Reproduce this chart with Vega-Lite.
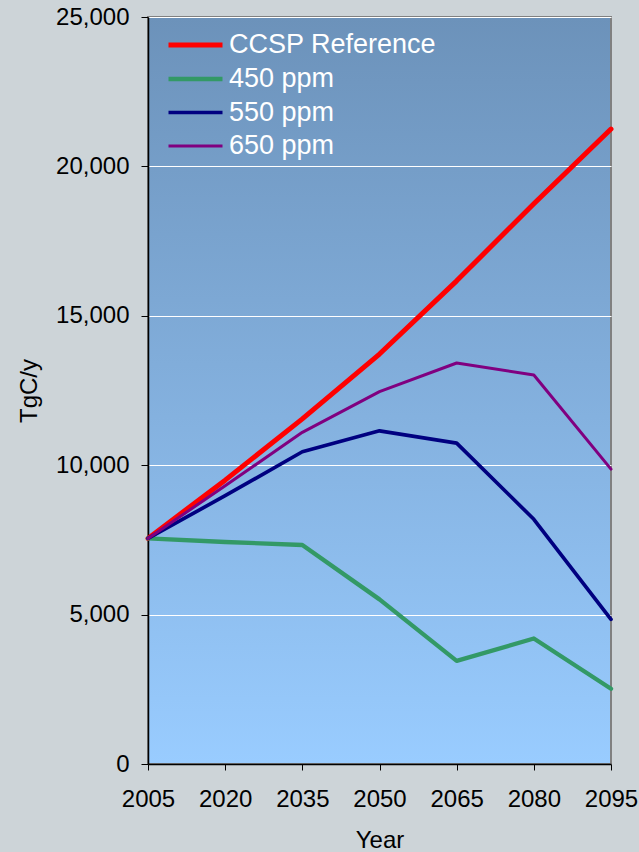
{
  "$schema": "https://vega.github.io/schema/vega-lite/v6.json",
  "width": 463,
  "height": 747,
  "autosize": {"type": "none"},
  "padding": {"left": 148, "top": 17, "right": 28, "bottom": 88},
  "background": "#cdd4d8",
  "config": {
    "font": "Liberation Sans",
    "view": {
      "fill": {"gradient": "linear", "x1": 0, "y1": 0, "x2": 0, "y2": 1,
        "stops": [{"offset": 0, "color": "#6c92ba"}, {"offset": 1, "color": "#99ccff"}]},
      "stroke": "#808080",
      "strokeWidth": 2
    },
    "axis": {
      "labelFont": "Liberation Sans",
      "labelFontSize": 24,
      "labelColor": "#000000",
      "titleFont": "Liberation Sans",
      "titleFontSize": 24,
      "titleFontWeight": "normal",
      "titleColor": "#000000",
      "domainColor": "#000000",
      "domainWidth": 1.5,
      "tickColor": "#000000",
      "tickWidth": 1
    }
  },
  "data": {
    "values": [
      {"series": "CCSP Reference", "year": 2005, "value": 7550},
      {"series": "CCSP Reference", "year": 2020, "value": 9500},
      {"series": "CCSP Reference", "year": 2035, "value": 11550},
      {"series": "CCSP Reference", "year": 2050, "value": 13720},
      {"series": "CCSP Reference", "year": 2065, "value": 16170},
      {"series": "CCSP Reference", "year": 2080, "value": 18750},
      {"series": "CCSP Reference", "year": 2095, "value": 21250},
      {"series": "450 ppm", "year": 2005, "value": 7550},
      {"series": "450 ppm", "year": 2020, "value": 7430},
      {"series": "450 ppm", "year": 2035, "value": 7330},
      {"series": "450 ppm", "year": 2050, "value": 5510},
      {"series": "450 ppm", "year": 2065, "value": 3450},
      {"series": "450 ppm", "year": 2080, "value": 4200},
      {"series": "450 ppm", "year": 2095, "value": 2520},
      {"series": "550 ppm", "year": 2005, "value": 7550},
      {"series": "550 ppm", "year": 2020, "value": 8980},
      {"series": "550 ppm", "year": 2035, "value": 10450},
      {"series": "550 ppm", "year": 2050, "value": 11150},
      {"series": "550 ppm", "year": 2065, "value": 10740},
      {"series": "550 ppm", "year": 2080, "value": 8190},
      {"series": "550 ppm", "year": 2095, "value": 4840},
      {"series": "650 ppm", "year": 2005, "value": 7550},
      {"series": "650 ppm", "year": 2020, "value": 9310},
      {"series": "650 ppm", "year": 2035, "value": 11100},
      {"series": "650 ppm", "year": 2050, "value": 12460},
      {"series": "650 ppm", "year": 2065, "value": 13420},
      {"series": "650 ppm", "year": 2080, "value": 13020},
      {"series": "650 ppm", "year": 2095, "value": 9870}
    ]
  },
  "mark": {"type": "line", "strokeJoin": "round", "strokeCap": "round"},
  "encoding": {
    "x": {
      "field": "year", "type": "quantitative",
      "scale": {"domain": [2005, 2095], "nice": false, "zero": false},
      "axis": {
        "values": [2005, 2020, 2035, 2050, 2065, 2080, 2095],
        "format": "d", "grid": false, "title": "Year",
        "tickSize": 6, "labelPadding": 17, "titlePadding": 17,
        "labelFlush": false, "labelOverlap": false
      }
    },
    "y": {
      "field": "value", "type": "quantitative",
      "scale": {"domain": [0, 25000], "nice": false},
      "axis": {
        "values": [0, 5000, 10000, 15000, 20000, 25000],
        "format": ",d", "title": "TgC/y",
        "grid": true, "gridColor": "#ffffff", "gridWidth": 1, "gridOpacity": 1,
        "tickSize": 7, "labelPadding": 12, "titlePadding": 14
      }
    },
    "color": {
      "field": "series", "type": "nominal",
      "scale": {
        "domain": ["CCSP Reference", "450 ppm", "550 ppm", "650 ppm"],
        "range": ["#ff0000", "#339966", "#000080", "#800080"]
      },
      "legend": {
        "title": null, "orient": "none", "legendX": 18, "legendY": 12,
        "symbolType": "M-1,0H3", "symbolSize": 729,
        "labelFontSize": 27, "labelColor": "#ffffff", "labelFont": "Liberation Sans",
        "labelOffset": 31, "rowPadding": 5, "padding": 0, "labelLimit": 0
      }
    },
    "strokeWidth": {
      "field": "series", "type": "nominal",
      "scale": {
        "domain": ["CCSP Reference", "450 ppm", "550 ppm", "650 ppm"],
        "range": [5, 3, 3, 3]
      },
      "legend": {
        "title": null, "orient": "none", "legendX": 18, "legendY": 12,
        "symbolType": "M-1,0H3", "symbolSize": 729,
        "labelFontSize": 27, "labelColor": "#ffffff", "labelFont": "Liberation Sans",
        "labelOffset": 31, "rowPadding": 5, "padding": 0, "labelLimit": 0
      }
    },
    "order": {"field": "year", "type": "quantitative"}
  }
}
